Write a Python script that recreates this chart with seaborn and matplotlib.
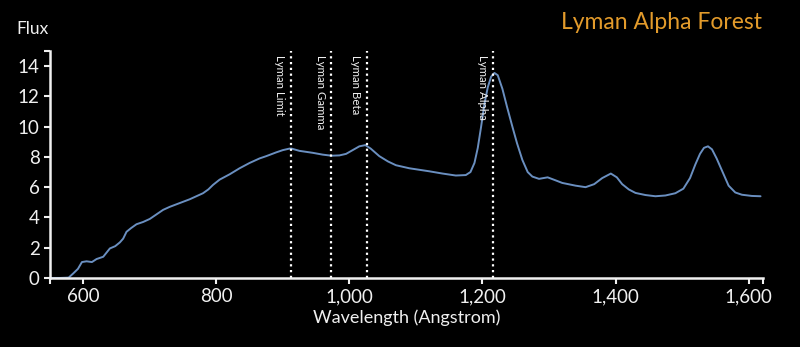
import matplotlib
matplotlib.use("Agg")
import matplotlib.pyplot as plt
import matplotlib.transforms as mtransforms
import seaborn as sns
import pandas as pd

wavelength = [550, 565, 578, 585, 592, 598, 605, 613, 620, 630, 640, 648, 655, 660,
              665, 672, 680, 690, 700, 710, 720, 730, 745, 760, 770, 780, 788, 795,
              805, 820, 835, 850, 865, 875, 890, 900, 910, 913, 925, 945, 960, 973,
              985, 995, 1005, 1015, 1024, 1032, 1045, 1058, 1070, 1090, 1120, 1140,
              1160, 1175, 1182, 1188, 1193, 1198, 1203, 1208, 1213, 1218, 1223, 1230,
              1237, 1245, 1252, 1260, 1268, 1275, 1285, 1298, 1310, 1320, 1340, 1355,
              1368, 1380, 1393, 1402, 1410, 1420, 1430, 1445, 1460, 1475, 1490, 1502,
              1512, 1520, 1527, 1533, 1539, 1545, 1552, 1560, 1570, 1580, 1590, 1605, 1618]
flux = [0, 0, 0.02, 0.3, 0.6, 1.05, 1.1, 1.05, 1.25, 1.4, 1.95, 2.1, 2.35, 2.6,
        3.05, 3.3, 3.55, 3.7, 3.9, 4.2, 4.5, 4.7, 4.95, 5.2, 5.4, 5.6, 5.85, 6.15,
        6.5, 6.85, 7.25, 7.6, 7.9, 8.05, 8.3, 8.45, 8.55, 8.55, 8.4, 8.27, 8.15, 8.08,
        8.1, 8.2, 8.45, 8.7, 8.78, 8.55, 8.05, 7.7, 7.45, 7.25, 7.05, 6.9,
        6.77, 6.8, 7.0, 7.6, 8.6, 10.0, 11.5, 12.6, 13.3, 13.55, 13.4, 12.5,
        11.3, 10.0, 8.9, 7.8, 7.0, 6.7, 6.55, 6.65, 6.45, 6.28, 6.1, 6.0,
        6.2, 6.6, 6.9, 6.65, 6.2, 5.85, 5.62, 5.48, 5.4, 5.45, 5.6, 5.9,
        6.6, 7.5, 8.2, 8.6, 8.7, 8.5, 7.9, 7.1, 6.1, 5.65, 5.5, 5.42, 5.4]

line_names = ["Lyman Limit", "Lyman Gamma", "Lyman Beta", "Lyman Alpha"]
line_positions = [912, 973, 1026, 1216]

x_ticks = [600, 800, 1000, 1200, 1400, 1600]
x_tick_labels = ["600", "800", "1,000", "1,200", "1,400", "1,600"]
y_ticks = [0, 2, 4, 6, 8, 10, 12, 14]

sns.set_theme(style="dark")
plt.rcParams["font.family"] = ["Lato", "DejaVu Sans"]

fg = "#f0f0f0"
fig = plt.figure(figsize=(8, 3.47), dpi=100, facecolor="black")
ax = fig.add_axes([0.0625, 0.199, 0.8915, 0.654])
ax.set_facecolor("black")

df = pd.DataFrame({"Wavelength": wavelength, "Flux": flux})
sns.lineplot(data=df, x="Wavelength", y="Flux", ax=ax, color="#6a8fc0", linewidth=1.4)

x_off = mtransforms.offset_copy(ax.transData, fig=fig, x=-4, y=0, units="points")
y_off = mtransforms.offset_copy(ax.transAxes, fig=fig, x=0, y=-3, units="points")
label_tr = mtransforms.blended_transform_factory(x_off, y_off)
for name, pos in zip(line_names, line_positions):
    ax.axvline(pos, color="white", linestyle=(0, (1, 1.6)), linewidth=1.6)
    ax.text(pos, 1.0, name, transform=label_tr, rotation=-90, ha="right", va="top",
            color=fg, fontsize=8.3)

ax.set_xlim(550, 1622)
ax.set_ylim(0, 15)
ax.set_xticks(x_ticks)
ax.set_xticklabels(x_tick_labels)
ax.set_yticks(y_ticks)
ax.set_xticks([550, 1622], minor=True)
ax.set_yticks([15], minor=True)
ax.grid(False)

for side in ["top", "right"]:
    ax.spines[side].set_visible(False)
for side in ["left", "bottom"]:
    ax.spines[side].set_visible(True)
    ax.spines[side].set_color(fg)
    ax.spines[side].set_linewidth(1.8)

ax.tick_params(axis="both", which="both", colors=fg, labelcolor=fg, labelsize=13.5,
               length=4, width=1.5, direction="out", left=True, bottom=True)
ax.set_xlabel("Wavelength (Angstrom)", color=fg, fontsize=13, labelpad=3)
ax.set_ylabel("")

fig.text(0.02, 0.915, "Flux", color=fg, fontsize=12.5, ha="left", va="center")
fig.text(0.953, 0.935, "Lyman Alpha Forest", color="#e39b2b", fontsize=16.5,
         ha="right", va="center")

fig.savefig("out.png", dpi=100, facecolor="black")
